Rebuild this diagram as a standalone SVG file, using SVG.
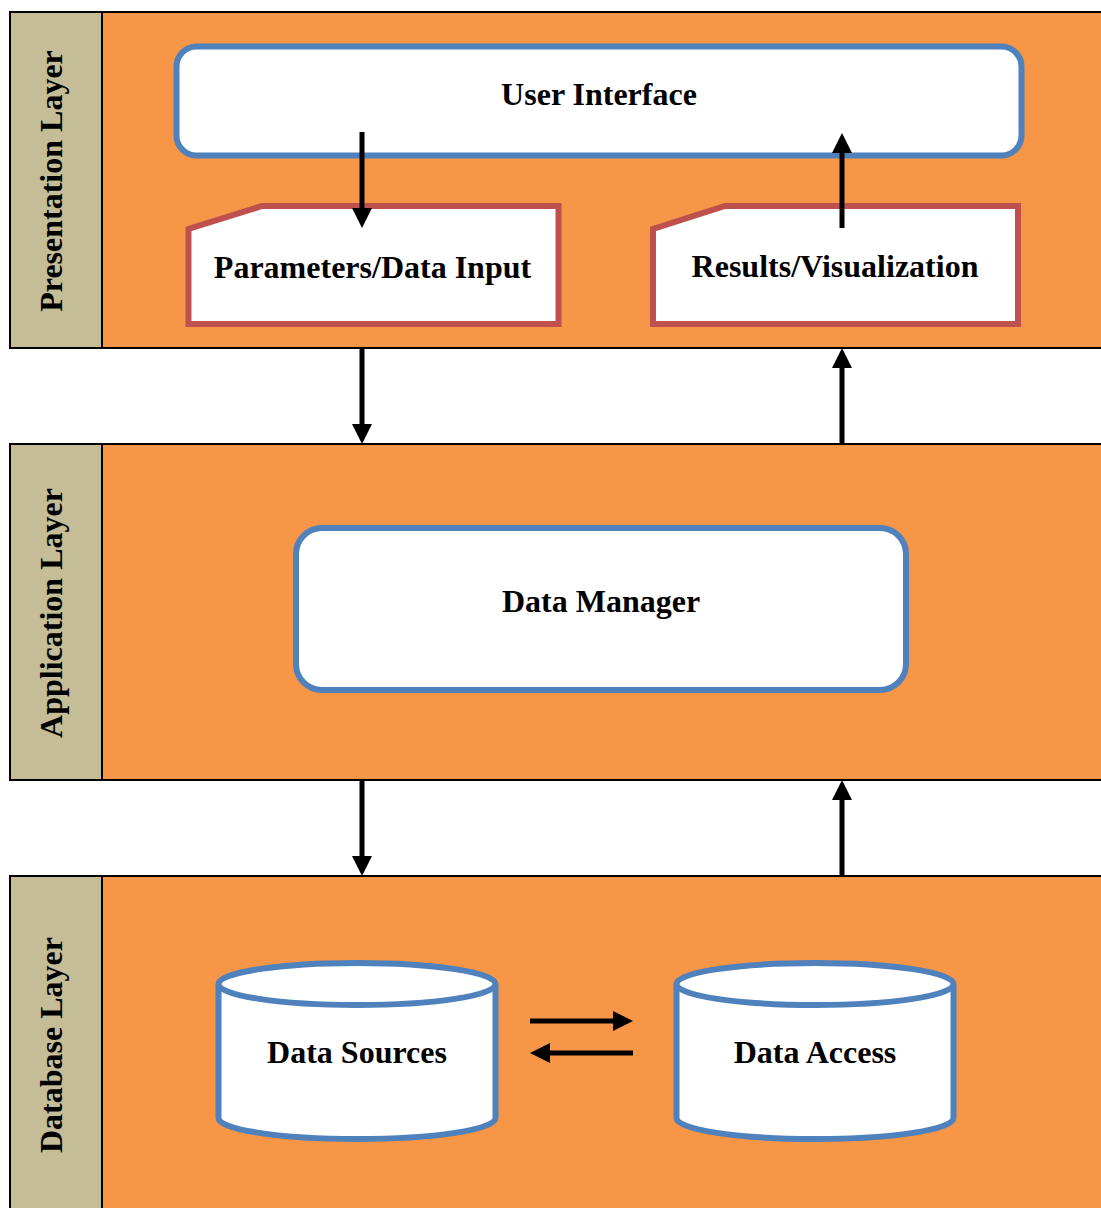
<svg xmlns="http://www.w3.org/2000/svg" width="1101" height="1208" viewBox="0 0 1101 1208">
  <style>
    .band { fill: #F79646; stroke: #000; stroke-width: 2; }
    .tab { fill: #C4BD97; stroke: #000; stroke-width: 2; }
    .tablabel { font-family: "Liberation Serif", "Times New Roman", serif; font-weight: bold; font-size: 32px; fill: #000; text-anchor: middle; }
    .box { fill: #fff; stroke: #4F81BD; stroke-width: 6; }
    .card { fill: #fff; stroke: #C0504D; stroke-width: 6; stroke-linejoin: miter; }
    .label { font-family: "Liberation Serif", "Times New Roman", serif; font-weight: bold; font-size: 32px; fill: #000; text-anchor: middle; }
    .arrow { stroke: #000; stroke-width: 5; fill: none; marker-end: url(#head); }
  </style>
  <defs>
    <marker id="head" viewBox="0 0 20 20" markerWidth="20" markerHeight="20" markerUnits="userSpaceOnUse" refX="0" refY="10" orient="auto">
      <path d="M0,0 L20,10 L0,20 Z" fill="#000"/>
    </marker>
  </defs>

  <rect width="1101" height="1208" fill="#fff"/>

  <!-- layer bands -->
  <g id="presentation-layer">
    <rect class="band" x="10" y="12" width="1100" height="336"/>
    <rect class="tab" x="10" y="12" width="92" height="336"/>
    <text class="tablabel" transform="translate(62,181) rotate(-90)">Presentation Layer</text>
  </g>
  <g id="application-layer">
    <rect class="band" x="10" y="444" width="1100" height="336"/>
    <rect class="tab" x="10" y="444" width="92" height="336"/>
    <text class="tablabel" transform="translate(62,613) rotate(-90)">Application Layer</text>
  </g>
  <g id="database-layer">
    <rect class="band" x="10" y="876" width="1100" height="345"/>
    <rect class="tab" x="10" y="876" width="92" height="345"/>
    <text class="tablabel" transform="translate(62,1045) rotate(-90)">Database Layer</text>
  </g>

  <!-- nodes -->
  <g id="user-interface">
    <rect class="box" x="176.5" y="46.5" width="845" height="109" rx="20"/>
    <text class="label" x="599" y="105">User Interface</text>
  </g>
  <g id="parameters-input">
    <path class="card" d="M262,206 L558.5,206 L558.5,324 L188.5,324 L188.5,229 Z"/>
    <text class="label" x="372.5" y="278">Parameters/Data Input</text>
  </g>
  <g id="results-visualization">
    <path class="card" d="M725,206 L1018,206 L1018,324 L653,324 L653,229 Z"/>
    <text class="label" x="835" y="277">Results/Visualization</text>
  </g>
  <g id="data-manager">
    <rect class="box" x="296" y="528" width="610" height="162" rx="26"/>
    <text class="label" x="601" y="612">Data Manager</text>
  </g>
  <g id="data-sources">
    <path class="box" d="M218.5,984 L218.5,1118 A138.5,21 0 0 0 495.5,1118 L495.5,984"/>
    <ellipse class="box" cx="357" cy="984" rx="138.5" ry="21"/>
    <text class="label" x="357" y="1063">Data Sources</text>
  </g>
  <g id="data-access">
    <path class="box" d="M676.5,984 L676.5,1118 A138.5,21 0 0 0 953.5,1118 L953.5,984"/>
    <ellipse class="box" cx="815" cy="984" rx="138.5" ry="21"/>
    <text class="label" x="815" y="1063">Data Access</text>
  </g>

  <!-- connectors -->
  <g id="connectors">
    <line class="arrow" x1="362" y1="132" x2="362" y2="208"/>
    <line class="arrow" x1="842" y1="228" x2="842" y2="153"/>
    <line class="arrow" x1="362" y1="348" x2="362" y2="424"/>
    <line class="arrow" x1="842" y1="444" x2="842" y2="368"/>
    <line class="arrow" x1="362" y1="780" x2="362" y2="856"/>
    <line class="arrow" x1="842" y1="876" x2="842" y2="800"/>
    <line class="arrow" x1="530" y1="1021" x2="613" y2="1021"/>
    <line class="arrow" x1="633" y1="1053" x2="550" y2="1053"/>
  </g>
</svg>
